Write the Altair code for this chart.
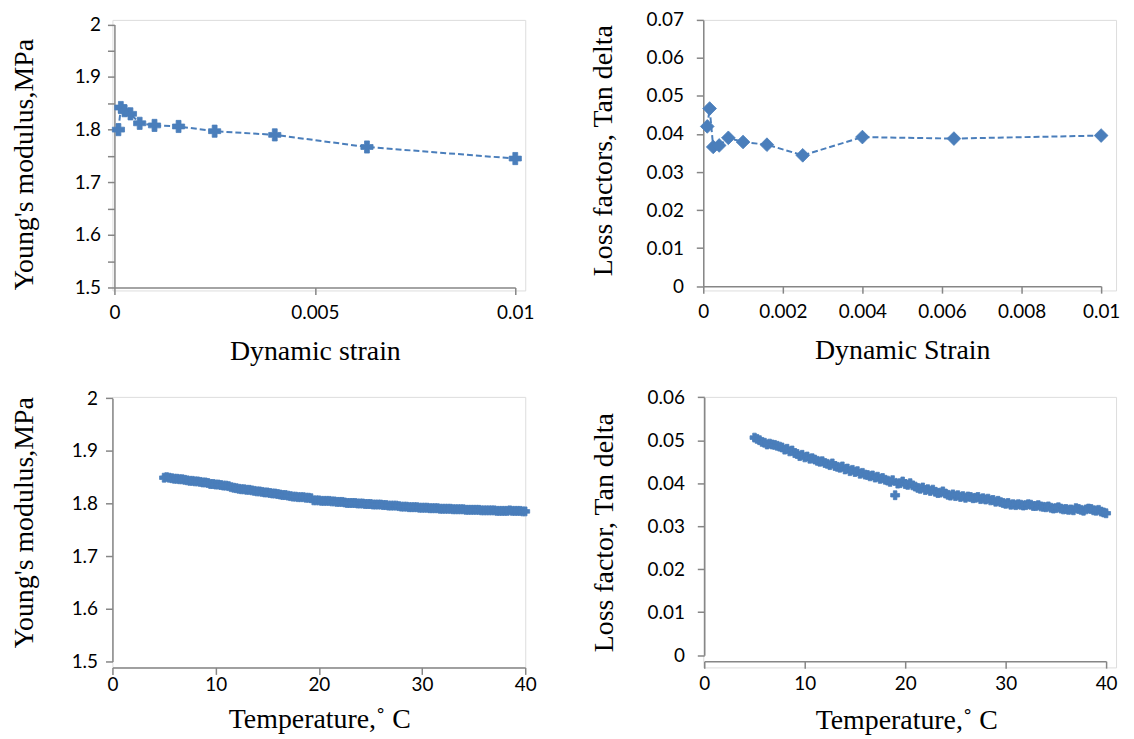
import altair as alt
import pandas as pd

# ---------------- data ----------------
strain = [0.0001, 0.00016, 0.00025, 0.0004, 0.00063, 0.001, 0.0016, 0.0025, 0.004, 0.0063, 0.01]
modulus_strain = [1.800, 1.842, 1.836, 1.830, 1.812, 1.808, 1.806, 1.797, 1.790, 1.767, 1.745]
tan_strain = [0.0420, 0.0467, 0.0366, 0.0370, 0.0390, 0.0379, 0.0372, 0.0344, 0.0392, 0.0388, 0.0396]

temps = [5.0, 5.25, 5.5, 5.75, 6.0, 6.25, 6.5, 6.75, 7.0, 7.25, 7.5, 7.75,
         8.0, 8.25, 8.5, 8.75, 9.0, 9.25, 9.5, 9.75, 10.0, 10.25, 10.5, 10.75,
         11.0, 11.25, 11.5, 11.75, 12.0, 12.25, 12.5, 12.75, 13.0, 13.25, 13.5, 13.75,
         14.0, 14.25, 14.5, 14.75, 15.0, 15.25, 15.5, 15.75, 16.0, 16.25, 16.5, 16.75,
         17.0, 17.25, 17.5, 17.75, 18.0, 18.25, 18.5, 18.75, 19.0, 19.25, 19.5, 19.75,
         20.0, 20.25, 20.5, 20.75, 21.0, 21.25, 21.5, 21.75, 22.0, 22.25, 22.5, 22.75,
         23.0, 23.25, 23.5, 23.75, 24.0, 24.25, 24.5, 24.75, 25.0, 25.25, 25.5, 25.75,
         26.0, 26.25, 26.5, 26.75, 27.0, 27.25, 27.5, 27.75, 28.0, 28.25, 28.5, 28.75,
         29.0, 29.25, 29.5, 29.75, 30.0, 30.25, 30.5, 30.75, 31.0, 31.25, 31.5, 31.75,
         32.0, 32.25, 32.5, 32.75, 33.0, 33.25, 33.5, 33.75, 34.0, 34.25, 34.5, 34.75,
         35.0, 35.25, 35.5, 35.75, 36.0, 36.25, 36.5, 36.75, 37.0, 37.25, 37.5, 37.75,
         38.0, 38.25, 38.5, 38.75, 39.0, 39.25, 39.5, 39.75, 40.0]
modulus_temp = [1.849, 1.850, 1.849, 1.848, 1.847, 1.847, 1.846, 1.846,
                1.845, 1.844, 1.843, 1.843, 1.842, 1.842, 1.841, 1.840,
                1.840, 1.839, 1.837, 1.837, 1.836, 1.836, 1.835, 1.834,
                1.834, 1.833, 1.831, 1.830, 1.829, 1.828, 1.827, 1.827,
                1.826, 1.826, 1.825, 1.824, 1.823, 1.823, 1.822, 1.821,
                1.821, 1.820, 1.819, 1.819, 1.818, 1.817, 1.816, 1.816,
                1.815, 1.814, 1.813, 1.813, 1.812, 1.812, 1.812, 1.811,
                1.811, 1.810, 1.806, 1.806, 1.806, 1.805, 1.805, 1.805,
                1.805, 1.804, 1.804, 1.803, 1.803, 1.803, 1.802, 1.801,
                1.801, 1.801, 1.801, 1.800, 1.800, 1.800, 1.799, 1.799,
                1.799, 1.798, 1.798, 1.798, 1.798, 1.797, 1.797, 1.796,
                1.796, 1.796, 1.796, 1.795, 1.794, 1.794, 1.794, 1.793,
                1.793, 1.793, 1.793, 1.792, 1.792, 1.792, 1.792, 1.791,
                1.791, 1.791, 1.791, 1.790, 1.790, 1.790, 1.790, 1.790,
                1.789, 1.789, 1.789, 1.789, 1.789, 1.788, 1.788, 1.788,
                1.788, 1.788, 1.788, 1.787, 1.787, 1.787, 1.787, 1.787,
                1.787, 1.786, 1.786, 1.786, 1.786, 1.786, 1.787, 1.786,
                1.786, 1.786, 1.786, 1.785, 1.785]
tan_temp = [0.0506, 0.0503, 0.0500, 0.0496, 0.0494, 0.0490, 0.0492, 0.0490,
            0.0489, 0.0487, 0.0485, 0.0483, 0.0478, 0.0480, 0.0474, 0.0476,
            0.0470, 0.0468, 0.0463, 0.0466, 0.0460, 0.0462, 0.0457, 0.0458,
            0.0455, 0.0452, 0.0450, 0.0451, 0.0447, 0.0445, 0.0442, 0.0446,
            0.0440, 0.0438, 0.0436, 0.0439, 0.0432, 0.0434, 0.0428, 0.0431,
            0.0426, 0.0428, 0.0422, 0.0424, 0.0420, 0.0419, 0.0416, 0.0418,
            0.0413, 0.0415, 0.0410, 0.0412, 0.0408, 0.0406, 0.0403, 0.0407,
            0.0372, 0.0399, 0.0400, 0.0404, 0.0398, 0.0396, 0.0400, 0.0395,
            0.0392, 0.0389, 0.0387, 0.0390, 0.0384, 0.0386, 0.0382, 0.0385,
            0.0380, 0.0377, 0.0378, 0.0381, 0.0376, 0.0373, 0.0371, 0.0374,
            0.0370, 0.0372, 0.0368, 0.0370, 0.0366, 0.0369, 0.0368, 0.0365,
            0.0366, 0.0368, 0.0363, 0.0365, 0.0362, 0.0364, 0.0360, 0.0361,
            0.0357, 0.0359, 0.0356, 0.0354, 0.0352, 0.0354, 0.0350, 0.0351,
            0.0349, 0.0351, 0.0350, 0.0348, 0.0349, 0.0351, 0.0350, 0.0347,
            0.0347, 0.0349, 0.0346, 0.0345, 0.0344, 0.0346, 0.0343, 0.0341,
            0.0342, 0.0344, 0.0341, 0.0339, 0.0340, 0.0338, 0.0339, 0.0337,
            0.0342, 0.0340, 0.0338, 0.0336, 0.0339, 0.0341, 0.0340, 0.0337,
            0.0336, 0.0338, 0.0334, 0.0332, 0.0330]

df_strain = pd.DataFrame({"strain": strain, "E": modulus_strain, "tan": tan_strain})
df_temp = pd.DataFrame({"T": temps, "E": modulus_temp, "tan": tan_temp})

BLUE = "#4A7EBB"
AX = "#868686"
SERIF = "Liberation Serif"
SANS = "Lato"
TFS = 28
LFS = 19


def xaxis(values, expr, title, titleX, titleY, labelPadding, offset=0):
    return alt.Axis(values=values, labelExpr=expr, title=title, titleX=titleX, titleY=titleY,
                    titleBaseline="alphabetic", titleAlign="center", titleFont=SERIF,
                    titleFontSize=TFS, titleFontWeight="normal", titleColor="#000",
                    labelFont=SANS, labelFontSize=LFS, labelColor="#000",
                    labelBaseline="alphabetic", labelPadding=labelPadding, labelFlush=False,
                    labelOverlap=False, tickSize=7, tickColor=AX, tickWidth=1.5,
                    domainColor=AX, domainWidth=1.5, grid=False, offset=offset)


def yaxis(values, expr, title, titleX, titleY, labelPadding, offset=0):
    return alt.Axis(values=values, labelExpr=expr, title=title, titleX=titleX, titleY=titleY,
                    titleAngle=-90, titleBaseline="alphabetic", titleAlign="center",
                    titleFont=SERIF, titleFontSize=TFS, titleFontWeight="normal", titleColor="#000",
                    labelFont=SANS, labelFontSize=LFS, labelColor="#000",
                    labelBaseline="middle", labelAlign="right", labelPadding=labelPadding,
                    labelFlush=False, labelOverlap=False, tickSize=7, tickColor=AX,
                    tickWidth=1.5, domainColor=AX, domainWidth=1.5, grid=False, offset=offset)


def panel(df, xf, yf, xdom, xrng, ydom, yrng, xax, yax, shape, size, line):
    x = alt.X(f"{xf}:Q", scale=alt.Scale(domain=xdom, range=xrng, nice=False, zero=False), axis=xax)
    y = alt.Y(f"{yf}:Q", scale=alt.Scale(domain=ydom, range=yrng, nice=False, zero=False), axis=yax)
    pts = alt.Chart(df).mark_point(shape=shape, filled=True, size=size, color=BLUE,
                                   opacity=1, stroke=BLUE, strokeWidth=0.8).encode(x=x, y=y)
    layers = [pts]
    if line:
        ln = alt.Chart(df).mark_line(color=BLUE, strokeDash=[6, 3], strokeWidth=2).encode(x=x, y=y)
        layers = [ln, pts]
    return alt.layer(*layers).properties(width=415, height=272)


tl = panel(df_strain, "strain", "E", [0, 0.01], [2, 405], [1.5, 2.0], [269, 4.5],
           xaxis([0, 0.005, 0.01], "toString(round(datum.value*1000)/1000)", "Dynamic strain",
                 203.5, 72, 24, offset=-3),
           yaxis([1.5, 1.55, 1.6, 1.65, 1.7, 1.75, 1.8, 1.85, 1.9, 1.95, 2.0],
                 "round(datum.value*20) % 2 == 0 ? toString(round(datum.value*10)/10) : ''",
                 "Young's modulus,MPa", -82, 145, 7, offset=-2),
           "cross", 150, True)

tr = panel(df_strain, "strain", "tan", [0, 0.01], [0, 400], [0, 0.07], [267.7, 0],
           xaxis([0, 0.002, 0.004, 0.006, 0.008, 0.01], "toString(round(datum.value*1000)/1000)",
                 "Dynamic Strain", 200, 73, 24, offset=-4.3),
           yaxis([0, 0.01, 0.02, 0.03, 0.04, 0.05, 0.06, 0.07],
                 "toString(round(datum.value*100)/100)",
                 "Loss factors, Tan delta", -92, 131, 13),
           "diamond", 190, True)

bl = panel(df_temp, "T", "E", [0, 40], [0, 415], [1.5, 2.0], [266, 1.3],
           xaxis([0, 10, 20, 30, 40], "toString(datum.value)", "Temperature,˚ C", 208, 60, 16),
           yaxis([1.5, 1.6, 1.7, 1.8, 1.9, 2.0], "toString(round(datum.value*10)/10)",
                 "Young's modulus,MPa", -80, 126, 8),
           "cross", 80, False)

br = panel(df_temp, "T", "tan", [0, 40], [1, 405], [0, 0.06], [259.7, 0.3],
           xaxis([0, 10, 20, 30, 40], "toString(datum.value)", "Temperature,˚ C", 204, 68, 21,
                 offset=-6.3),
           yaxis([0, 0.01, 0.02, 0.03, 0.04, 0.05, 0.06], "toString(round(datum.value*100)/100)",
                 "Loss factor, Tan delta", -92, 136, 13, offset=-1),
           "cross", 80, False)

chart = alt.concat(tl, tr, bl, br, columns=2, spacing={"row": 107, "column": 179},
                   bounds="flush").properties(
    padding={"left": 2, "top": 0, "right": 5, "bottom": 5}
).configure_view(stroke=None).configure(background="white")

chart.save("out.html", embed_options={"renderer": "svg", "actions": False})
